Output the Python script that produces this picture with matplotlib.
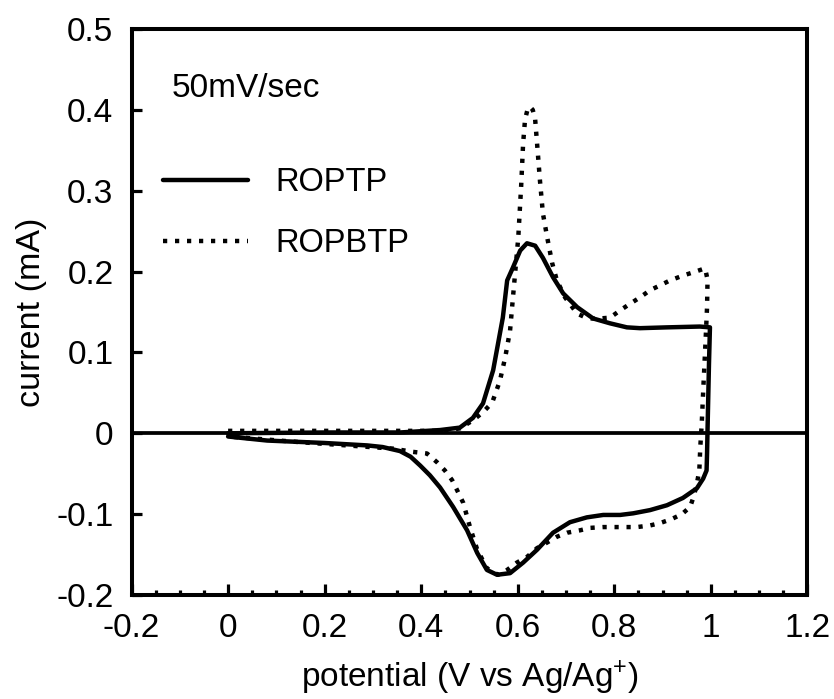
import matplotlib
matplotlib.use("Agg")
import matplotlib.pyplot as plt
from matplotlib.ticker import FixedLocator, MultipleLocator

plt.rcParams['font.family'] = ['Liberation Sans', 'DejaVu Sans']
plt.rcParams['mathtext.default'] = 'regular'
plt.rcParams['axes.unicode_minus'] = False

# ROPTP cyclic voltammogram (anodic sweep 0 -> 1.0 V, then back)
roptp_potential = [0.000, 0.200, 0.356, 0.439, 0.480, 0.507, 0.528, 0.549, 0.569, 0.578,
                   0.590, 0.605, 0.619, 0.636, 0.652, 0.673, 0.694, 0.723, 0.756, 0.791,
                   0.826, 0.853, 0.909, 0.977, 0.998,
                   0.996, 0.993, 0.992, 0.991, 0.984, 0.971, 0.942, 0.909, 0.874, 0.839,
                   0.812, 0.777, 0.743, 0.708, 0.673, 0.640, 0.611, 0.584, 0.557, 0.536,
                   0.516, 0.495, 0.466, 0.439, 0.418, 0.398, 0.378, 0.356, 0.320, 0.288,
                   0.200, 0.081, 0.000]
roptp_current = [0.000, 0.001, 0.001, 0.004, 0.007, 0.019, 0.037, 0.078, 0.143, 0.189,
                 0.205, 0.226, 0.235, 0.232, 0.217, 0.193, 0.173, 0.156, 0.142, 0.136,
                 0.131, 0.130, 0.131, 0.132, 0.131,
                 0.086, 0.004, -0.025, -0.046, -0.056, -0.068, -0.080, -0.089, -0.095, -0.099,
                 -0.101, -0.101, -0.104, -0.110, -0.123, -0.144, -0.160, -0.173, -0.175, -0.169,
                 -0.148, -0.120, -0.091, -0.067, -0.052, -0.040, -0.029, -0.022, -0.017, -0.015,
                 -0.012, -0.009, -0.004]

# ROPBTP cyclic voltammogram
ropbtp_potential = [0.000, 0.200, 0.439, 0.480, 0.507, 0.528, 0.547, 0.563, 0.574, 0.584,
                    0.590, 0.601, 0.607, 0.611, 0.615, 0.620, 0.625, 0.631, 0.636, 0.640,
                    0.646, 0.652, 0.661, 0.671, 0.681, 0.698, 0.723, 0.745, 0.770, 0.791,
                    0.812, 0.832, 0.853, 0.874, 0.895, 0.915, 0.942, 0.963, 0.988,
                    0.993, 0.992, 0.989, 0.985, 0.981, 0.978, 0.976, 0.971, 0.965, 0.957,
                    0.940, 0.919, 0.895, 0.874, 0.847, 0.812, 0.777, 0.750, 0.729, 0.702,
                    0.681, 0.661, 0.640, 0.619, 0.598, 0.578, 0.559, 0.536, 0.516, 0.501,
                    0.487, 0.474, 0.464, 0.449, 0.433, 0.412, 0.383, 0.342, 0.149, 0.000]
ropbtp_current = [0.003, 0.003, 0.003, 0.006, 0.016, 0.026, 0.038, 0.065, 0.094, 0.127,
                  0.168, 0.242, 0.306, 0.358, 0.388, 0.400, 0.404, 0.400, 0.388, 0.358,
                  0.312, 0.272, 0.242, 0.211, 0.189, 0.168, 0.148, 0.142, 0.142, 0.143,
                  0.152, 0.160, 0.168, 0.177, 0.183, 0.189, 0.195, 0.199, 0.204,
                  0.190, 0.156, 0.115, 0.065, 0.012, -0.017, -0.046, -0.062, -0.077, -0.091,
                  -0.100, -0.106, -0.111, -0.114, -0.116, -0.116, -0.116, -0.117, -0.120, -0.123,
                  -0.128, -0.135, -0.142, -0.153, -0.160, -0.169, -0.175, -0.167, -0.144, -0.116,
                  -0.086, -0.070, -0.058, -0.046, -0.036, -0.025, -0.023, -0.019, -0.011, -0.004]

x_ticks = [-0.2, 0, 0.2, 0.4, 0.6, 0.8, 1.0, 1.2]
x_tick_labels = ['-0.2', '0', '0.2', '0.4', '0.6', '0.8', '1', '1.2']
y_ticks = [-0.2, -0.1, 0, 0.1, 0.2, 0.3, 0.4, 0.5]
y_tick_labels = ['-0.2', '-0.1', '0', '0.1', '0.2', '0.3', '0.4', '0.5']

fig = plt.figure(figsize=(8.34, 6.99), dpi=100)
ax = fig.add_axes([0.1577, 0.1488, 0.8105, 0.8097])

lw = 3.2
ax.axhline(0, color='black', lw=2.7, zorder=1)
ax.plot(roptp_potential, roptp_current, color='black', lw=lw,
        solid_joinstyle='round', solid_capstyle='round', label='ROPTP', zorder=3)
ax.plot(ropbtp_potential, ropbtp_current, color='black', lw=lw,
        linestyle=(0, (0.95, 1.75)), label='ROPBTP', zorder=2)

ax.set_xlim(-0.2, 1.2)
ax.set_ylim(-0.2, 0.5)

ax.xaxis.set_major_locator(FixedLocator(x_ticks))
ax.set_xticklabels(x_tick_labels)
ax.xaxis.set_minor_locator(MultipleLocator(0.05))
ax.yaxis.set_major_locator(FixedLocator(y_ticks))
ax.set_yticklabels(y_tick_labels)

for s in ax.spines.values():
    s.set_linewidth(2.9)

ax.tick_params(axis='x', which='major', direction='in', length=8, width=2.3,
               labelsize=24, pad=13, top=False)
ax.tick_params(axis='x', which='minor', direction='in', length=3.8, width=2.3, top=False)
ax.tick_params(axis='y', which='major', direction='in', length=7.5, width=2.3,
               labelsize=24, pad=13, right=False)

ax.set_xlabel('potential (V vs Ag/Ag$^{+}$)', fontsize=24)
ax.set_ylabel('current (mA)', fontsize=24.5)
ax.xaxis.set_label_coords(0.5, -0.112)
ax.yaxis.set_label_coords(-0.125, 0.5)

ax.text(-0.116, 0.416, '50mV/sec', fontsize=24, va='baseline', ha='left')

leg = ax.legend(loc='upper left', bbox_to_anchor=(0.0466, 0.756), frameon=False,
                fontsize=23.5, handlelength=2.6, handletextpad=0.83,
                labelspacing=0.93, borderpad=0, borderaxespad=0)

fig.savefig('out.png', dpi=100)
